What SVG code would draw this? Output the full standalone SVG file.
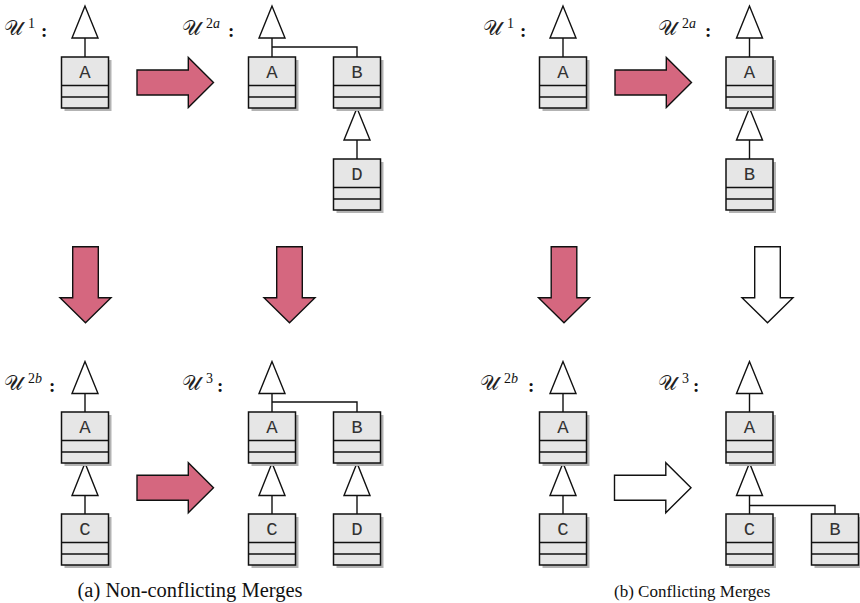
<svg xmlns="http://www.w3.org/2000/svg" xmlns:xlink="http://www.w3.org/1999/xlink" width="860" height="603" viewBox="0 0 860 603">
<style>
.shadow{fill:#b3b3b3;stroke:none}
.box{fill:#e6e6e6;stroke:#111;stroke-width:1.5}
.div{stroke:#111;stroke-width:1.5}
.name{font-family:"Liberation Mono","Courier New",monospace;font-size:19px;fill:#333;text-anchor:middle}
.conn{fill:none;stroke:#111;stroke-width:1.4}
.tri{fill:#fff;stroke:#111;stroke-width:1.4;stroke-linejoin:miter}
.pink{fill:#d5677f;stroke:#111;stroke-width:1.4;stroke-linejoin:miter}
.white{fill:#fff;stroke:#111;stroke-width:1.4;stroke-linejoin:miter}
.scr{font-family:"DejaVu Serif","Liberation Serif",serif;font-size:21px;fill:#222}
.sup{font-family:"Liberation Serif",serif;font-size:14px;font-style:italic;fill:#111}
.supn{font-family:"Liberation Serif",serif;font-size:14px;fill:#111}
.col{font-family:"Liberation Serif",serif;font-size:19px;font-weight:bold;fill:#111}
.cap{font-family:"Liberation Serif","Times New Roman",serif;fill:#111}
</style>
<defs>
<g id="cls">
<rect class="shadow" x="3" y="3" width="47" height="51"/>
<rect class="box" x="0" y="0" width="47" height="51"/>
<line class="div" x1="0" y1="28.5" x2="47" y2="28.5"/>
<line class="div" x1="0" y1="40" x2="47" y2="40"/>
</g>
<polygon id="harrow" points="0,-12.5 51.3,-12.5 51.3,-25 76.5,0 51.3,25 51.3,12.5 0,12.5"/>
<polygon id="varrow" points="-12.8,0 12.8,0 12.8,51 25.5,51 0,76 -25.5,51 -12.8,51"/>
</defs>

<!-- connectors -->
<g id="connectors">
<!-- (a) U1 -->
<line class="conn" x1="85" y1="38" x2="85" y2="57"/>
<polygon class="tri" points="85,6 72,38 98,38"/>
<!-- (a) U2a -->
<path class="conn" d="M272,38 V57 M272,47 H357 V57"/>
<polygon class="tri" points="272,6 259,38 285,38"/>
<line class="conn" x1="357" y1="140" x2="357" y2="159"/>
<polygon class="tri" points="357,108 344,140 370,140"/>
<!-- (a) U2b -->
<line class="conn" x1="85" y1="393.5" x2="85" y2="412"/>
<polygon class="tri" points="85,361.5 72,393.5 98,393.5"/>
<line class="conn" x1="85" y1="495.5" x2="85" y2="514"/>
<polygon class="tri" points="85,463 72,495.5 98,495.5"/>
<!-- (a) U3 -->
<path class="conn" d="M272,393.5 V412 M272,402 H357 V412"/>
<polygon class="tri" points="272,361.5 259,393.5 285,393.5"/>
<line class="conn" x1="272" y1="495.5" x2="272" y2="514"/>
<polygon class="tri" points="272,463 259,495.5 285,495.5"/>
<line class="conn" x1="357" y1="495.5" x2="357" y2="514"/>
<polygon class="tri" points="357,463 344,495.5 370,495.5"/>
<!-- (b) U1 -->
<line class="conn" x1="563" y1="38" x2="563" y2="57"/>
<polygon class="tri" points="563,6 550,38 576,38"/>
<!-- (b) U2a -->
<line class="conn" x1="749.5" y1="38" x2="749.5" y2="57"/>
<polygon class="tri" points="749.5,6 736.5,38 762.5,38"/>
<line class="conn" x1="749.5" y1="140" x2="749.5" y2="159"/>
<polygon class="tri" points="749.5,108 736.5,140 762.5,140"/>
<!-- (b) U2b -->
<line class="conn" x1="563" y1="393.5" x2="563" y2="412"/>
<polygon class="tri" points="563,361.5 550,393.5 576,393.5"/>
<line class="conn" x1="563" y1="495.5" x2="563" y2="514"/>
<polygon class="tri" points="563,463 550,495.5 576,495.5"/>
<!-- (b) U3 -->
<line class="conn" x1="749.5" y1="393.5" x2="749.5" y2="412"/>
<polygon class="tri" points="749.5,361.5 736.5,393.5 762.5,393.5"/>
<path class="conn" d="M749.5,495.5 V514 M749.5,505.5 H835 V514"/>
<polygon class="tri" points="749.5,463 736.5,495.5 762.5,495.5"/>

<!-- transition arrows -->
<use xlink:href="#harrow" class="pink" x="137" y="82.5"/>
<use xlink:href="#harrow" class="pink" x="137" y="487.7"/>
<use xlink:href="#varrow" class="pink" x="85.5" y="246.7"/>
<use xlink:href="#varrow" class="pink" x="289.5" y="246.7"/>
<use xlink:href="#harrow" class="pink" x="615" y="82.5"/>
<use xlink:href="#harrow" class="white" x="614.5" y="487.7"/>
<use xlink:href="#varrow" class="pink" x="564" y="246.7"/>
<use xlink:href="#varrow" class="white" x="767.5" y="246.7"/>
</g>

<!-- nodes: (a) -->
<g id="a-u1-A" transform="translate(61.5,57)"><use xlink:href="#cls"/><text class="name" x="23.5" y="21">A</text></g>
<g id="a-u2a-A" transform="translate(248.5,57)"><use xlink:href="#cls"/><text class="name" x="23.5" y="21">A</text></g>
<g id="a-u2a-B" transform="translate(333.5,57)"><use xlink:href="#cls"/><text class="name" x="23.5" y="21">B</text></g>
<g id="a-u2a-D" transform="translate(333.5,159)"><use xlink:href="#cls"/><text class="name" x="23.5" y="21">D</text></g>
<g id="a-u2b-A" transform="translate(61.5,412)"><use xlink:href="#cls"/><text class="name" x="23.5" y="21">A</text></g>
<g id="a-u2b-C" transform="translate(61.5,514)"><use xlink:href="#cls"/><text class="name" x="23.5" y="21">C</text></g>
<g id="a-u3-A" transform="translate(248.5,412)"><use xlink:href="#cls"/><text class="name" x="23.5" y="21">A</text></g>
<g id="a-u3-B" transform="translate(333.5,412)"><use xlink:href="#cls"/><text class="name" x="23.5" y="21">B</text></g>
<g id="a-u3-C" transform="translate(248.5,514)"><use xlink:href="#cls"/><text class="name" x="23.5" y="21">C</text></g>
<g id="a-u3-D" transform="translate(333.5,514)"><use xlink:href="#cls"/><text class="name" x="23.5" y="21">D</text></g>
<!-- nodes: (b) -->
<g id="b-u1-A" transform="translate(539.5,57)"><use xlink:href="#cls"/><text class="name" x="23.5" y="21">A</text></g>
<g id="b-u2a-A" transform="translate(726,57)"><use xlink:href="#cls"/><text class="name" x="23.5" y="21">A</text></g>
<g id="b-u2a-B" transform="translate(726,159)"><use xlink:href="#cls"/><text class="name" x="23.5" y="21">B</text></g>
<g id="b-u2b-A" transform="translate(539.5,412)"><use xlink:href="#cls"/><text class="name" x="23.5" y="21">A</text></g>
<g id="b-u2b-C" transform="translate(539.5,514)"><use xlink:href="#cls"/><text class="name" x="23.5" y="21">C</text></g>
<g id="b-u3-A" transform="translate(726,412)"><use xlink:href="#cls"/><text class="name" x="23.5" y="21">A</text></g>
<g id="b-u3-C" transform="translate(726,514)"><use xlink:href="#cls"/><text class="name" x="23.5" y="21">C</text></g>
<g id="b-u3-B" transform="translate(811.5,514)"><use xlink:href="#cls"/><text class="name" x="23.5" y="21">B</text></g>

<!-- version labels -->
<g id="label-a-u1"><text class="scr" x="4" y="35">𝒰</text><text class="supn" x="28" y="28">1</text><text class="col" x="41" y="37">:</text></g>
<g id="label-a-u2a"><text class="scr" x="182" y="35">𝒰</text><text class="supn" x="206" y="28">2</text><text class="sup" x="213" y="28">a</text><text class="col" x="228" y="37">:</text></g>
<g id="label-a-u2b"><text class="scr" x="4" y="390">𝒰</text><text class="supn" x="28" y="383">2</text><text class="sup" x="35" y="383">b</text><text class="col" x="49" y="392">:</text></g>
<g id="label-a-u3"><text class="scr" x="182" y="390">𝒰</text><text class="supn" x="206" y="383">3</text><text class="col" x="217" y="392">:</text></g>
<g id="label-b-u1"><text class="scr" x="483" y="35">𝒰</text><text class="supn" x="507" y="28">1</text><text class="col" x="520" y="37">:</text></g>
<g id="label-b-u2a"><text class="scr" x="658" y="35">𝒰</text><text class="supn" x="682" y="28">2</text><text class="sup" x="689" y="28">a</text><text class="col" x="705" y="37">:</text></g>
<g id="label-b-u2b"><text class="scr" x="480" y="390">𝒰</text><text class="supn" x="504" y="383">2</text><text class="sup" x="511" y="383">b</text><text class="col" x="528" y="392">:</text></g>
<g id="label-b-u3"><text class="scr" x="658" y="390">𝒰</text><text class="supn" x="682" y="383">3</text><text class="col" x="693" y="392">:</text></g>

<!-- captions -->
<text class="cap" x="77.5" y="597" font-size="20.5">(a) Non-conflicting Merges</text>
<text class="cap" x="614" y="597" font-size="17">(b) Conflicting Merges</text>
</svg>
